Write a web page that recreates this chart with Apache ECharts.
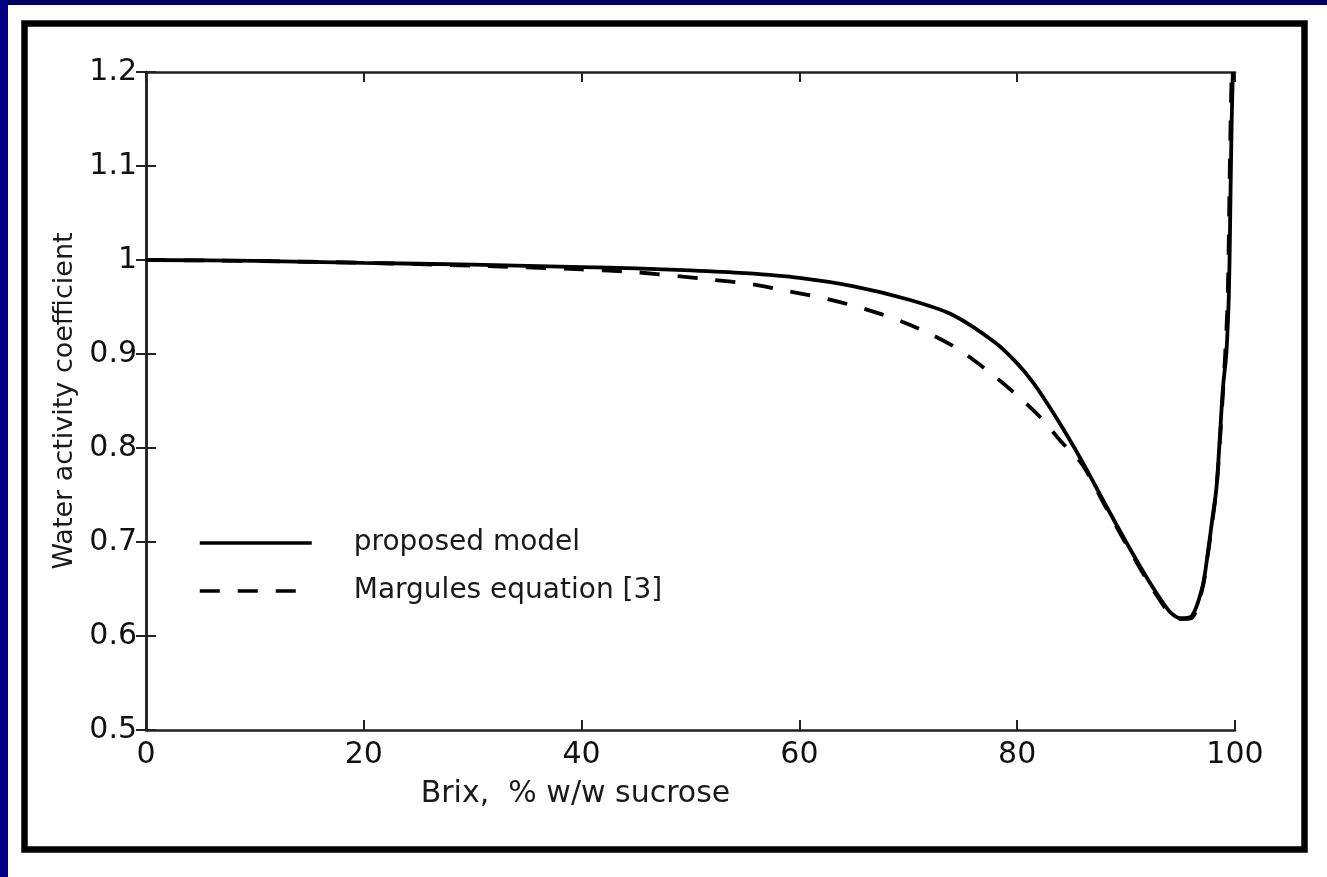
<!DOCTYPE html>
<html>
<head>
<meta charset="utf-8">
<title>Water activity coefficient vs Brix</title>
<script src="https://cdn.jsdelivr.net/npm/echarts@6/dist/echarts.min.js"></script>
<style>
  html, body { margin: 0; padding: 0; background: #fff; }
  #chart { width: 1327px; height: 877px; }
</style>
</head>
<body>
<div id="chart"></div>
<script>
// Brix (% w/w sucrose) and water activity coefficient
const brixProposed = [0, 10, 20, 30, 40, 45, 50, 55, 60, 65, 70, 74, 78, 80, 81.5, 83, 84.6, 86, 88, 90, 92, 93, 94, 95, 96, 97, 97.5, 97.9, 98.3, 98.6, 98.9, 99.2, 99.4, 99.5, 99.6, 99.7, 99.8];
const gammaProposed = [1.0, 0.999, 0.997, 0.995, 0.9925, 0.991, 0.989, 0.986, 0.981, 0.972, 0.958, 0.942, 0.912, 0.890, 0.869, 0.843, 0.813, 0.785, 0.742, 0.700, 0.660, 0.642, 0.626, 0.619, 0.621, 0.652, 0.688, 0.723, 0.758, 0.810, 0.865, 0.900, 0.950, 1.0, 1.08, 1.15, 1.2];

const brixMargules = [0, 10, 20, 30, 40, 45, 52, 55.5, 58.9, 62.1, 65.4, 68.6, 71.7, 74.6, 77.2, 79.8, 82.1, 84.1, 86, 88, 90, 92, 93, 94, 95, 96, 97, 97.5, 97.9, 98.3, 98.6, 98.9, 99.1, 99.3, 99.4, 99.5, 99.6, 99.7];
const gammaMargules = [1.0, 0.999, 0.997, 0.994, 0.990, 0.987, 0.979, 0.9745, 0.967, 0.9596, 0.950, 0.938, 0.923, 0.905, 0.883, 0.858, 0.833, 0.806, 0.782, 0.740, 0.698, 0.658, 0.640, 0.624, 0.618, 0.619, 0.650, 0.686, 0.720, 0.757, 0.805, 0.860, 0.900, 0.950, 1.0, 1.08, 1.15, 1.2];

const xTickLabels = ['0', '20', '40', '60', '80', '100'];
const yTickLabels = ['0.5', '0.6', '0.7', '0.8', '0.9', '1', '1.1', '1.2'];

const seriesNames = ['proposed model', 'Margules equation [3]'];

const toPairs = (xs, ys) => xs.map((x, i) => [x, ys[i]]);

const FONT = 'DejaVu Sans';
const axisColor = '#222';

const chart = echarts.init(document.getElementById('chart'));

const tickStyle = { inside: true, length: 10, lineStyle: { color: axisColor, width: 2 } };
const lineStyleAxis = { show: true, lineStyle: { color: axisColor, width: 2.5 } };

const option = {
    backgroundColor: '#fff',
    animation: false,
    graphic: [
        // blue slide border (top and left), then the black frame
        { type: 'rect', left: 0, top: 0, shape: { width: 1327, height: 5 }, style: { fill: '#00005e' } },
        { type: 'rect', left: 0, top: 0, shape: { width: 8, height: 877 }, style: { fill: '#000085' } },
        { type: 'rect', shape: { x: 24.5, y: 23.5, width: 1280, height: 826 }, style: { fill: 'none', stroke: '#000', lineWidth: 6.5 } }
    ],
    grid: { left: 146, right: 92, top: 72, bottom: 147 },
    legend: {
        orient: 'vertical',
        left: 198,
        top: 529,
        padding: 0,
        itemWidth: 112,
        itemHeight: 14,
        itemGap: 20,
        data: seriesNames,
        itemStyle: { opacity: 0 },
        lineStyle: { width: 3.5 },
        textStyle: { fontFamily: FONT, fontSize: 28, color: '#1a1a1a', padding: [0, 0, 0, 37] }
    },
    xAxis: [
        {
            type: 'value',
            min: 0, max: 100, interval: 20,
            position: 'bottom',
            name: 'Brix,  % w/w sucrose',
            nameLocation: 'middle',
            nameGap: 49,
            nameTextStyle: { fontFamily: FONT, fontSize: 30, color: '#1a1a1a', padding: [0, 230, 0, 0] },
            axisLine: lineStyleAxis,
            axisTick: tickStyle,
            splitLine: { show: false },
            axisLabel: {
                fontFamily: FONT, fontSize: 30, color: '#111', margin: 10,
                formatter: (v) => xTickLabels[Math.round(v / 20)]
            }
        },
        {
            type: 'value',
            min: 0, max: 100, interval: 20,
            position: 'top',
            axisLine: lineStyleAxis,
            axisTick: tickStyle,
            splitLine: { show: false },
            axisLabel: { show: false }
        }
    ],
    yAxis: [
        {
            type: 'value',
            min: 0.5, max: 1.2, interval: 0.1,
            position: 'left',
            name: 'Water activity coefficient',
            nameLocation: 'middle',
            nameGap: 62,
            nameTextStyle: { fontFamily: FONT, fontSize: 27, color: '#1a1a1a' },
            axisLine: lineStyleAxis,
            axisTick: tickStyle,
            splitLine: { show: false },
            axisLabel: {
                fontFamily: FONT, fontSize: 30, color: '#111', margin: 9,
                formatter: (v) => yTickLabels[Math.round((v - 0.5) / 0.1)]
            }
        },
        {
            type: 'value',
            min: 0.5, max: 1.2, interval: 0.1,
            position: 'right',
            axisLine: lineStyleAxis,
            axisTick: tickStyle,
            splitLine: { show: false },
            axisLabel: { show: false }
        }
    ],
    series: [
        {
            name: seriesNames[0],
            type: 'line',
            xAxisIndex: 0,
            yAxisIndex: 0,
            data: toPairs(brixProposed, gammaProposed),
            symbol: 'none',
            smooth: 0.3,
            lineStyle: { color: '#000', width: 3.8, type: 'solid' },
            itemStyle: { color: '#000' }
        },
        {
            name: seriesNames[1],
            type: 'line',
            xAxisIndex: 0,
            yAxisIndex: 0,
            data: toPairs(brixMargules, gammaMargules),
            symbol: 'none',
            smooth: 0.3,
            lineStyle: { color: '#000', width: 3.8, type: [20, 18] },
            itemStyle: { color: '#000' }
        }
    ]
};

chart.setOption(option);
</script>
</body>
</html>
